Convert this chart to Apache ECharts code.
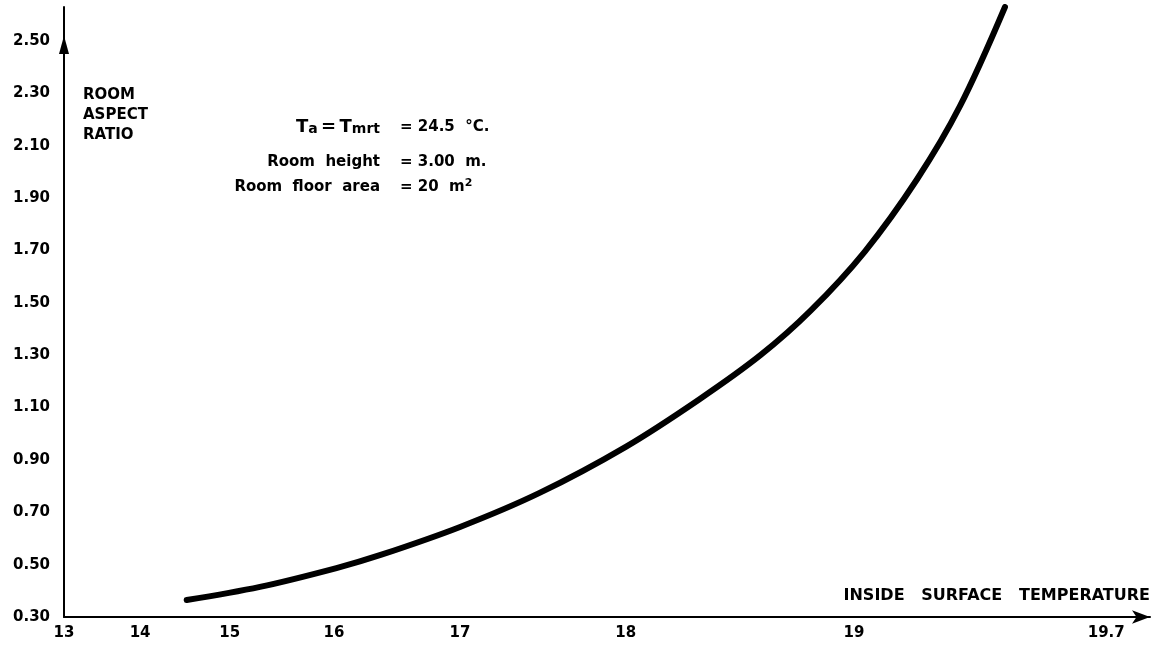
<!DOCTYPE html>
<html>
<head>
<meta charset="utf-8">
<script src="https://cdn.jsdelivr.net/npm/echarts@6/dist/echarts.min.js"></script>
<style>
html,body{margin:0;padding:0;background:#fff;}
#chart{width:1152px;height:646px;}
</style>
</head>
<body>
<div id="chart"></div>
<script>
// ---- data ----
const temps  = [14.52, 15.29, 16.02, 16.37, 17.0, 17.48, 18.0, 18.32, 18.59, 18.81, 19.03, 19.175, 19.294, 19.419];
const ratios = [0.365, 0.415, 0.487, 0.537, 0.644, 0.774, 0.95, 1.13, 1.30, 1.47, 1.696, 1.972, 2.251, 2.63];
const xTickTemps  = [13, 14, 15, 16, 17, 18, 19, 19.7];
const xTickLabels = ['13', '14', '15', '16', '17', '18', '19', '19.7'];
const yTicks = [0.30, 0.50, 0.70, 0.90, 1.10, 1.30, 1.50, 1.70, 1.90, 2.10, 2.30, 2.50];

// ---- axis calibration: the original's temperature axis is non-linear (hand-ruled);
// relative place of each labelled temperature along the axis (13 -> 0, 19.7 -> 1)
const xScaleStops = [0, 0.073, 0.159, 0.259, 0.380, 0.539, 0.758, 1];
const xScaleMax = 1.042;

function tempToAxis(t) {
  for (let i = 0; i < xTickTemps.length - 1; i++) {
    if (t <= xTickTemps[i + 1] || i === xTickTemps.length - 2) {
      const f = (t - xTickTemps[i]) / (xTickTemps[i + 1] - xTickTemps[i]);
      return xScaleStops[i] + f * (xScaleStops[i + 1] - xScaleStops[i]);
    }
  }
}
const seriesData = temps.map((t, i) => [tempToAxis(t), ratios[i]]);

const FONT = 'DejaVu Sans';
const chart = echarts.init(document.getElementById('chart'));
chart.setOption({
  backgroundColor: '#fff',
  animation: false,
  grid: { left: 64, right: 2, top: 7, bottom: 29, containLabel: false },
  xAxis: {
    type: 'value', min: 0, max: xScaleMax,
    axisLine: { show: true, onZero: false, lineStyle: { color: '#000', width: 2 }, symbol: ['none', 'arrow'], symbolSize: [10, 18] },
    axisTick: { show: false },
    splitLine: { show: false },
    axisLabel: {
      customValues: xScaleStops,
      margin: 9,
      color: '#000', fontFamily: FONT, fontSize: 15, fontWeight: 'bold',
      formatter: v => { const i = xScaleStops.findIndex(s => Math.abs(s - v) < 1e-6); return i >= 0 ? xTickLabels[i] : ''; }
    }
  },
  yAxis: {
    type: 'value', min: 0.30, max: 2.63,
    axisLine: { show: true, lineStyle: { color: '#000', width: 2 } },
    axisTick: { show: false },
    splitLine: { show: false },
    axisLabel: {
      customValues: yTicks,
      margin: 14,
      color: '#000', fontFamily: FONT, fontSize: 15, fontWeight: 'bold',
      formatter: v => v.toFixed(2)
    }
  },
  series: [{
    type: 'line',
    data: seriesData,
    smooth: 0.35,
    showSymbol: false,
    lineStyle: { color: '#000', width: 6, cap: 'round' }
  }]
});

// y-axis arrow head and free texts
const tip = chart.convertToPixel({ gridIndex: 0 }, [0, 2.52]);
const base = chart.convertToPixel({ gridIndex: 0 }, [0, 2.45]);
const B = 'bold ';
chart.setOption({
  graphic: [
    { type: 'polygon', shape: { points: [[tip[0], tip[1]], [tip[0] - 5, base[1]], [tip[0] + 5, base[1]]] }, style: { fill: '#000' } },
    { type: 'text', left: 83, top: 85, style: { text: 'ROOM\nASPECT\nRATIO', font: B + '15px ' + FONT, lineHeight: 20, fill: '#000' } },
    { type: 'text', right: 2, top: 588, style: { text: 'INSIDE   SURFACE   TEMPERATURE', font: B + '16px ' + FONT, fill: '#000' } },
    { type: 'text', x: 380, y: 127, style: {
        text: '{b|T}{s|a} {b|=} {b|T}{s|mrt}', align: 'right', verticalAlign: 'middle',
        rich: { b: { fontSize: 18, fontFamily: FONT, fontWeight: 'bold', fill: '#000' }, s: { fontSize: 14, fontFamily: FONT, fontWeight: 'bold', fill: '#000', padding: [4, 0, 0, 0] } } } },
    { type: 'text', x: 380, y: 162, style: { text: 'Room  height', align: 'right', verticalAlign: 'middle', font: B + '15px ' + FONT, fill: '#000' } },
    { type: 'text', x: 380, y: 187, style: { text: 'Room  floor  area', align: 'right', verticalAlign: 'middle', font: B + '15px ' + FONT, fill: '#000' } },
    { type: 'text', x: 400, y: 127, style: { text: '= 24.5  °C.', verticalAlign: 'middle', font: B + '15px ' + FONT, fill: '#000' } },
    { type: 'text', x: 400, y: 162, style: { text: '= 3.00  m.', verticalAlign: 'middle', font: B + '15px ' + FONT, fill: '#000' } },
    { type: 'text', x: 400, y: 187, style: {
        text: '= 20  m{sup|2}', verticalAlign: 'middle', font: B + '15px ' + FONT, fill: '#000',
        rich: { sup: { fontSize: 11, fontFamily: FONT, fontWeight: 'bold', fill: '#000', padding: [0, 0, 8, 0] } } } }
  ]
});
</script>
</body>
</html>
